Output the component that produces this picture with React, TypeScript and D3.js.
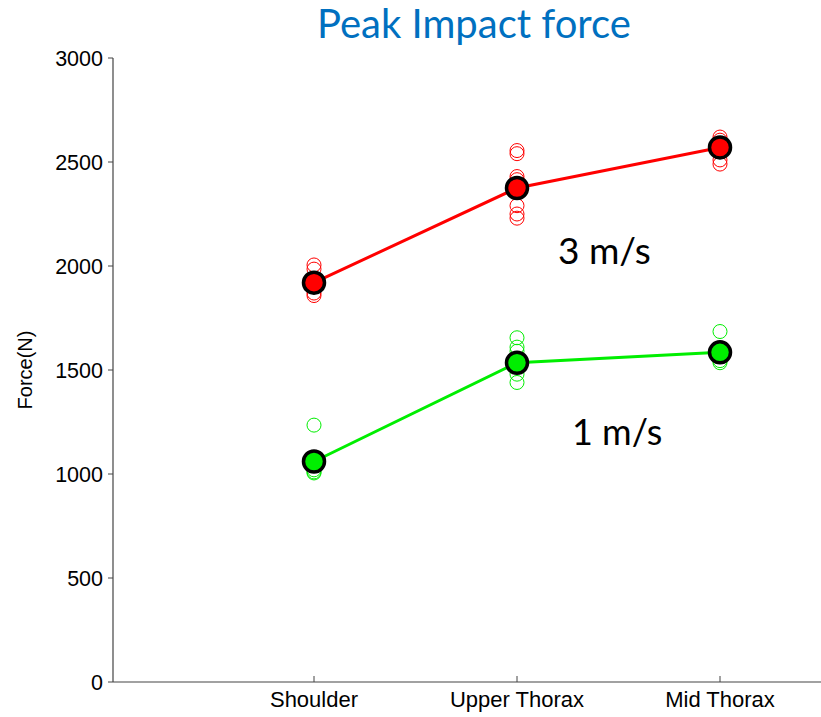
import React from "react";
import * as d3 from "d3";

const categories = ["Shoulder", "Upper Thorax", "Mid Thorax"];
const redMeans = [1920, 2375, 2570];
const greenMeans = [1060, 1535, 1585];
const redTrials = [
  [2005, 1985, 1870, 1858],
  [2555, 2540, 2430, 2415, 2290, 2250, 2230],
  [2620, 2605, 2510, 2490],
];
const greenTrials = [
  [1235, 1020, 1010, 1005],
  [1655, 1610, 1590, 1480, 1440],
  [1685, 1545, 1535],
];
const yTicks = [0, 500, 1000, 1500, 2000, 2500, 3000];

const W = 821;
const H = 717;
const left = 113;
const top = 58;
const bottom = 682;

export default function App() {
  const x = d3.scaleLinear().domain([1, 3]).range([314, 720]);
  const y = d3.scaleLinear().domain([0, 3000]).range([bottom, top]);
  const line = d3
    .line<number>()
    .x((_, i) => x(i + 1))
    .y((d) => y(d));
  const axisColor = "#444";
  const tickFont = "'Liberation Sans', Arial, sans-serif";
  const calibri = "Lato, 'Open Sans', sans-serif";
  return (
    <svg
      width={W}
      height={H}
      style={{ position: "absolute", left: 0, top: 0, background: "#fff" }}
    >
      <text
        x={474}
        y={38}
        textAnchor="middle"
        fontFamily={calibri}
        fontSize={40}
        fill="#0070C0"
      >
        Peak Impact force
      </text>
      {/* axes */}
      <line x1={left} y1={top} x2={left} y2={bottom} stroke={axisColor} strokeWidth={1.2} />
      <line x1={left} y1={bottom} x2={W} y2={bottom} stroke={axisColor} strokeWidth={1.2} />
      {yTicks.map((t) => (
        <g key={t}>
          <line x1={left - 5} x2={left} y1={y(t)} y2={y(t)} stroke={axisColor} strokeWidth={1} />
          <text
            x={left - 10}
            y={y(t)}
            dy="0.35em"
            textAnchor="end"
            fontFamily={tickFont}
            fontSize={21.5}
            fill="#000"
          >
            {t}
          </text>
        </g>
      ))}
      {categories.map((c, i) => (
        <g key={c}>
          <line x1={x(i + 1)} x2={x(i + 1)} y1={bottom} y2={bottom - 6} stroke={axisColor} strokeWidth={1} />
          <text
            x={x(i + 1)}
            y={bottom + 25}
            textAnchor="middle"
            fontFamily={tickFont}
            fontSize={22}
            fill="#000"
          >
            {c}
          </text>
        </g>
      ))}
      <text
        transform={`translate(32,${(top + bottom) / 2}) rotate(-90)`}
        textAnchor="middle"
        fontFamily={tickFont}
        fontSize={20}
        fill="#000"
      >
        Force(N)
      </text>
      {/* trials */}
      {redTrials.map((arr, i) =>
        arr.map((v, j) => (
          <circle key={`r${i}-${j}`} cx={x(i + 1)} cy={y(v)} r={7} fill="none" stroke="#ff0000" strokeWidth={1} />
        ))
      )}
      {greenTrials.map((arr, i) =>
        arr.map((v, j) => (
          <circle key={`g${i}-${j}`} cx={x(i + 1)} cy={y(v)} r={7} fill="none" stroke="#00ee00" strokeWidth={1} />
        ))
      )}
      <path d={line(redMeans) || ""} fill="none" stroke="#ff0000" strokeWidth={3} />
      <path d={line(greenMeans) || ""} fill="none" stroke="#00ee00" strokeWidth={3} />
      {redMeans.map((v, i) => (
        <circle key={`rm${i}`} cx={x(i + 1)} cy={y(v)} r={10.5} fill="#ff0000" stroke="#000" strokeWidth={3.5} />
      ))}
      {greenMeans.map((v, i) => (
        <circle key={`gm${i}`} cx={x(i + 1)} cy={y(v)} r={10.5} fill="#00ee00" stroke="#000" strokeWidth={3.5} />
      ))}
      <text x={558} y={264} fontFamily={calibri} fontSize={37} fill="#000">
        3 m/s
      </text>
      <text x={572} y={445} fontFamily={calibri} fontSize={36} fill="#000">
        1 m/s
      </text>
    </svg>
  );
}
